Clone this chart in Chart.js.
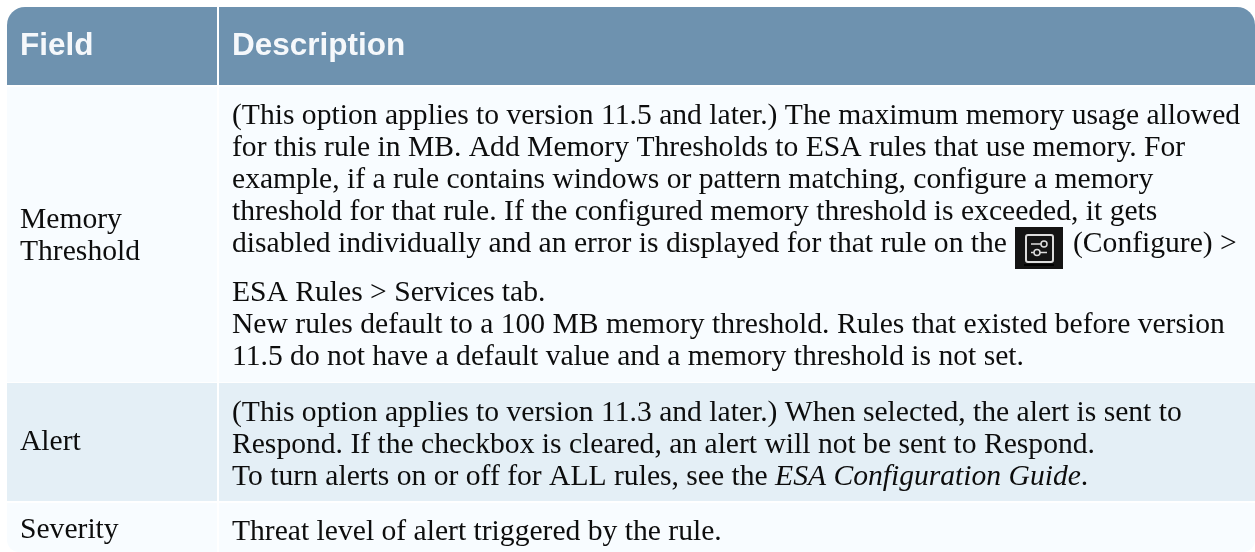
<!DOCTYPE html>
<html>
<head>
<meta charset="utf-8">
<title>Field table</title>
<script src="https://cdn.jsdelivr.net/npm/chart.js@4/dist/chart.umd.min.js"></script>
<style>
    html, body { margin: 0; padding: 0; background: #fff; }
    canvas { display: block; }
</style>
</head>
<body>
<canvas id="myChart" width="1255" height="552"></canvas>
<script>
const columnEdges = [[7, 217], [219, 1255]];
const rowTops = [7, 87, 383, 503];
const rowBottoms = [85, 382, 501, 552];
const rowColors = ["#6e92af", "#f8fcff", "#e4eff6", "#f8fcff"];

const headerLabels = ["Field", "Description"];
const fieldLabels = [["Memory", "Threshold"], ["Alert"], ["Severity"]];
const fieldBaselines = [[228, 260], [450], [538]];

const memoryLines = [
    "(This option applies to version 11.5 and later.) The maximum memory usage allowed",
    "for this rule in MB. Add Memory Thresholds to ESA rules that use memory. For",
    "example, if a rule contains windows or pattern matching, configure a memory",
    "threshold for that rule. If the configured memory threshold is exceeded, it gets",
    "disabled individually and an error is displayed for that rule on the",
    "ESA Rules > Services tab.",
    "New rules default to a 100 MB memory threshold. Rules that existed before version",
    "11.5 do not have a default value and a memory threshold is not set."
];
const memoryBaselines = [124, 156, 188, 220, 252, 301, 333, 365];
const alertLines = [
    "(This option applies to version 11.3 and later.) When selected, the alert is sent to",
    "Respond. If the checkbox is cleared, an alert will not be sent to Respond.",
    "To turn alerts on or off for ALL rules, see the "
];
const alertBaselines = [421, 453, 485];
const guideTitle = "ESA Configuration Guide";
const severityLine = "Threat level of alert triggered by the rule.";
const severityBaseline = 540;
const configureLabel = "(Configure) >";

const iconEdges = [1015, 1063];
const iconTop = 227;
const iconBottom = 269;

const SERIF = '29.6px "Liberation Serif"';
const SERIF_ITALIC = 'italic 29.6px "Liberation Serif"';
const HEADER = 'bold 31.5px "Liberation Sans"';
const TEXT_COLOR = "#0d0d0d";
const FIELD_X = 20;
const DESC_X = 232;

function createDatasets(){
    const datasets = rowTops.map((top, i) => ({
        data: columnEdges.map(edge => ({ x: edge, y: (top + rowBottoms[i]) / 2 })),
        backgroundColor: rowColors[i],
        barThickness: rowBottoms[i] - top,
        borderRadius: cornerRadius(i)
    }));
    datasets.push({
        data: [{ x: iconEdges, y: (iconTop + iconBottom) / 2 }],
        backgroundColor: "#141414",
        barThickness: iconBottom - iconTop,
        borderRadius: 0,
        order: -1
    });
    return datasets;
}

function cornerRadius(rowIndex){
    return (context) => {
        const first = context.dataIndex === 0;
        if (rowIndex === 0) {
            return first ? { topLeft: 18, topRight: 0, bottomLeft: 0, bottomRight: 0 }
                         : { topLeft: 0, topRight: 18, bottomLeft: 0, bottomRight: 0 };
        }
        if (rowIndex === rowTops.length - 1) {
            return first ? { topLeft: 0, topRight: 0, bottomLeft: 12, bottomRight: 0 }
                         : { topLeft: 0, topRight: 0, bottomLeft: 0, bottomRight: 12 };
        }
        return 0;
    };
}

function drawIconGlyph(ctx, xPx, yPx){
    ctx.save();
    ctx.strokeStyle = "#000";
    ctx.lineWidth = 2;
    ctx.beginPath();
    ctx.moveTo(xPx(1024), yPx(265));
    ctx.lineTo(xPx(1054), yPx(265));
    ctx.stroke();

    ctx.strokeStyle = "#dcdcdc";
    ctx.beginPath();
    ctx.roundRect(xPx(1026), yPx(235), 27, 27, 2);
    ctx.stroke();
    ctx.lineWidth = 1.5;
    ctx.beginPath();
    ctx.moveTo(xPx(1031), yPx(244));
    ctx.lineTo(xPx(1047), yPx(244));
    ctx.moveTo(xPx(1031), yPx(252.5));
    ctx.lineTo(xPx(1047), yPx(252.5));
    ctx.stroke();
    ctx.fillStyle = "#141414";
    ctx.beginPath();
    ctx.arc(xPx(1044), yPx(244), 3, 0, Math.PI * 2);
    ctx.fill();
    ctx.stroke();
    ctx.beginPath();
    ctx.arc(xPx(1037), yPx(252.5), 3, 0, Math.PI * 2);
    ctx.fill();
    ctx.stroke();
    ctx.restore();
}

const tableText = {
    id: "tableText",
    afterDatasetsDraw(chart){
        const ctx = chart.ctx;
        const xPx = (v) => chart.scales.x.getPixelForValue(v);
        const yPx = (v) => chart.scales.y.getPixelForValue(v);
        ctx.save();
        ctx.textBaseline = "alphabetic";
        ctx.textAlign = "left";

        ctx.font = HEADER;
        ctx.fillStyle = "#f5f8fb";
        ctx.fillText(headerLabels[0], xPx(FIELD_X), yPx(55));
        ctx.fillText(headerLabels[1], xPx(DESC_X), yPx(55));

        ctx.font = SERIF;
        ctx.fillStyle = TEXT_COLOR;
        fieldLabels.forEach((lines, i) => {
            lines.forEach((line, j) => ctx.fillText(line, xPx(FIELD_X), yPx(fieldBaselines[i][j])));
        });
        memoryLines.forEach((line, i) => ctx.fillText(line, xPx(DESC_X), yPx(memoryBaselines[i])));
        ctx.fillText(configureLabel, xPx(1073), yPx(memoryBaselines[4]));
        alertLines.forEach((line, i) => ctx.fillText(line, xPx(DESC_X), yPx(alertBaselines[i])));
        ctx.fillText(severityLine, xPx(DESC_X), yPx(severityBaseline));

        // italic title follows the last alert line
        const lastLine = alertLines[alertLines.length - 1];
        const titleX = xPx(DESC_X) + ctx.measureText(lastLine).width;
        ctx.font = SERIF_ITALIC;
        ctx.fillText(guideTitle, titleX, yPx(alertBaselines[2]));
        const dotX = titleX + ctx.measureText(guideTitle).width;
        ctx.font = SERIF;
        ctx.fillText(".", dotX, yPx(alertBaselines[2]));
        ctx.restore();

        drawIconGlyph(ctx, xPx, yPx);
    }
};

new Chart("myChart", {
    type: "bar",
    data: { datasets: createDatasets() },
    plugins: [tableText],
    options: {
        indexAxis: "y",
        responsive: false,
        animation: false,
        grouped: false,
        inflateAmount: 0,
        borderSkipped: false,
        layout: { padding: 0 },
        scales: {
            x: { type: "linear", min: 0, max: 1255, display: false },
            y: { type: "linear", min: 0, max: 552, reverse: true, offset: false, display: false }
        },
        plugins: {
            legend: { display: false },
            title: { display: false },
            tooltip: { enabled: false }
        }
    }
});
</script>
</body>
</html>
